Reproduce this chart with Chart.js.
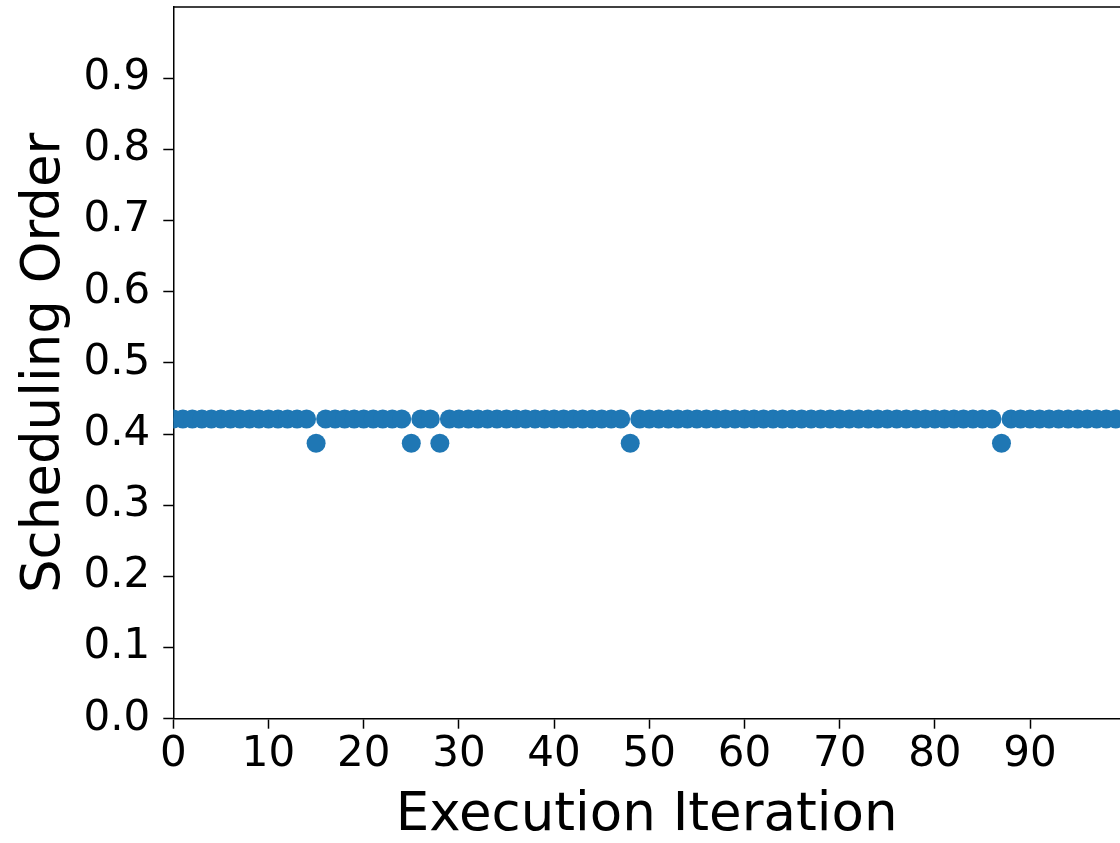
<!DOCTYPE html>
<html lang="en">
<head>
    <meta charset="UTF-8">
    <title>Scheduling Order</title>
    <script src="https://cdn.jsdelivr.net/npm/chart.js"></script>
    <style>
        body {
            margin: 0;
            background: #fff;
            overflow: hidden;
        }
        #wrap {
            width: 1120px;
            height: 843px;
        }
    </style>
</head>
<body>
    <div id="wrap"><canvas id="myChart"></canvas></div>

    <script>
        const iterations = [
            0, 1, 2, 3, 4, 5, 6, 7, 8, 9,
            10, 11, 12, 13, 14, 15, 16, 17, 18, 19,
            20, 21, 22, 23, 24, 25, 26, 27, 28, 29,
            30, 31, 32, 33, 34, 35, 36, 37, 38, 39,
            40, 41, 42, 43, 44, 45, 46, 47, 48, 49,
            50, 51, 52, 53, 54, 55, 56, 57, 58, 59,
            60, 61, 62, 63, 64, 65, 66, 67, 68, 69,
            70, 71, 72, 73, 74, 75, 76, 77, 78, 79,
            80, 81, 82, 83, 84, 85, 86, 87, 88, 89,
            90, 91, 92, 93, 94, 95, 96, 97, 98, 99
        ];
        const schedulingOrder = [
            0.421, 0.421, 0.421, 0.421, 0.421, 0.421, 0.421, 0.421, 0.421, 0.421,
            0.421, 0.421, 0.421, 0.421, 0.421, 0.387, 0.421, 0.421, 0.421, 0.421,
            0.421, 0.421, 0.421, 0.421, 0.421, 0.387, 0.421, 0.421, 0.387, 0.421,
            0.421, 0.421, 0.421, 0.421, 0.421, 0.421, 0.421, 0.421, 0.421, 0.421,
            0.421, 0.421, 0.421, 0.421, 0.421, 0.421, 0.421, 0.421, 0.387, 0.421,
            0.421, 0.421, 0.421, 0.421, 0.421, 0.421, 0.421, 0.421, 0.421, 0.421,
            0.421, 0.421, 0.421, 0.421, 0.421, 0.421, 0.421, 0.421, 0.421, 0.421,
            0.421, 0.421, 0.421, 0.421, 0.421, 0.421, 0.421, 0.421, 0.421, 0.421,
            0.421, 0.421, 0.421, 0.421, 0.421, 0.421, 0.421, 0.387, 0.421, 0.421,
            0.421, 0.421, 0.421, 0.421, 0.421, 0.421, 0.421, 0.421, 0.421, 0.421
        ];
        const xTicks = [0, 10, 20, 30, 40, 50, 60, 70, 80, 90];
        const yTicks = [0, 0.1, 0.2, 0.3, 0.4, 0.5, 0.6, 0.7, 0.8, 0.9];

        const black = '#000';
        const blue = '#1f77b4';

        // top frame line (matplotlib spine), right one is cut off in the reference
        const topSpine = {
            id: 'topSpine',
            afterDraw(chart) {
                const a = chart.chartArea;
                const ctx = chart.ctx;
                ctx.save();
                ctx.strokeStyle = black;
                ctx.lineWidth = 1.5;
                ctx.beginPath();
                ctx.moveTo(a.left, a.top);
                ctx.lineTo(a.right, a.top);
                ctx.stroke();
                ctx.restore();
            }
        };

        const ctx = document.getElementById('myChart').getContext('2d');
        new Chart(ctx, {
            type: 'scatter',
            data: {
                datasets: [{
                    data: iterations.map((x, i) => ({ x: x, y: schedulingOrder[i] })),
                    backgroundColor: blue,
                    borderColor: blue,
                    borderWidth: 0,
                    pointRadius: 9.5,
                    pointHoverRadius: 9.5,
                    clip: 0
                }]
            },
            options: {
                responsive: true,
                maintainAspectRatio: false,
                animation: false,
                layout: { autoPadding: false, padding: { top: 7, left: 0, right: 0, bottom: 0 } },
                plugins: {
                    legend: { display: false },
                    tooltip: { enabled: false }
                },
                scales: {
                    x: {
                        type: 'linear',
                        min: 0,
                        max: 99.45,
                        afterBuildTicks: s => { s.ticks = xTicks.map(v => ({ value: v })); },
                        afterFit: s => {
                            s.height = 124.3;
                            s.paddingLeft = 0;
                            s.paddingRight = 0;
                        },
                        grid: { drawOnChartArea: false, drawTicks: true, tickLength: 10, tickWidth: 1.5, tickColor: black },
                        border: { display: true, color: black, width: 1.5 },
                        ticks: {
                            color: black,
                            padding: 1,
                            maxRotation: 0,
                            autoSkip: false,
                            font: { family: 'DejaVu Sans', size: 42 },
                            callback: v => String(v)
                        },
                        title: {
                            display: true,
                            text: 'Execution Iteration',
                            color: black,
                            font: { family: 'DejaVu Sans', size: 53, lineHeight: 1 },
                            padding: { top: 0, bottom: 0 }
                        }
                    },
                    y: {
                        min: 0,
                        max: 1.0,
                        afterBuildTicks: s => { s.ticks = yTicks.map(v => ({ value: v })); },
                        afterFit: s => {
                            s.width = 173.3;
                            s.paddingTop = 0;
                            s.paddingBottom = 0;
                        },
                        grid: { drawOnChartArea: false, drawTicks: true, tickLength: 10, tickWidth: 1.5, tickColor: black },
                        border: { display: true, color: black, width: 1.5 },
                        ticks: {
                            color: black,
                            padding: 13,
                            autoSkip: false,
                            font: { family: 'DejaVu Sans', size: 42 },
                            callback: v => v.toFixed(1)
                        },
                        title: {
                            display: true,
                            text: 'Scheduling Order',
                            color: black,
                            font: { family: 'DejaVu Sans', size: 53, lineHeight: 1 },
                            padding: { top: 19, bottom: 0 }
                        }
                    }
                }
            },
            plugins: [topSpine]
        });
    </script>
</body>
</html>
